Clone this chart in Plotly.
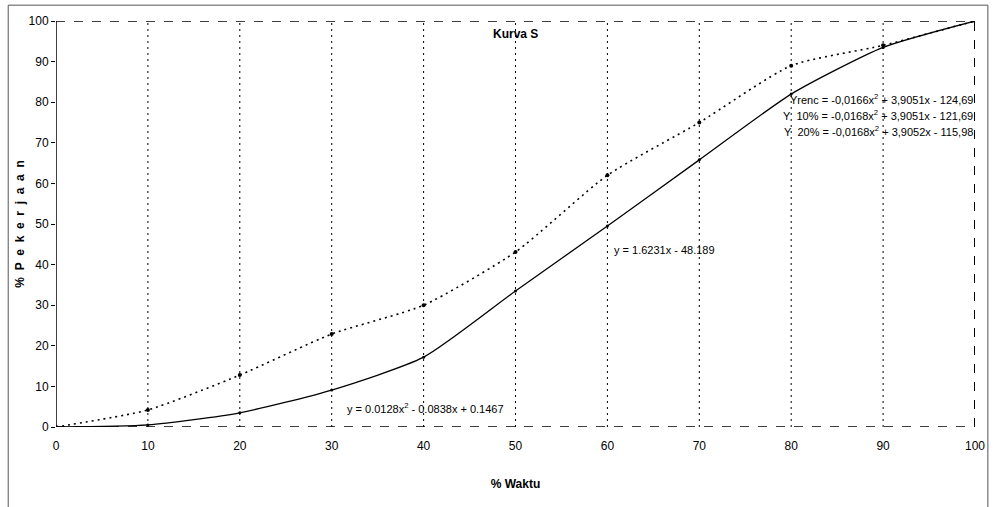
import plotly.graph_objects as go

waktu = [0, 10, 20, 30, 40, 50, 60, 70, 80, 90, 100]
rencana = [0, 0.5, 3.5, 9.1, 17.2, 33.5, 49.5, 65.8, 82.0, 93.5, 100]
realisasi = [0, 4.2, 12.8, 22.9, 30.0, 43.1, 62.0, 75.0, 89.0, 94.0, 100]
x_ticks = [0, 10, 20, 30, 40, 50, 60, 70, 80, 90, 100]
y_ticks = [0, 10, 20, 30, 40, 50, 60, 70, 80, 90, 100]

FONT = "Liberation Sans Narrow, Arial Narrow, Liberation Sans, sans-serif"
NB = "\u00a0"

fig = go.Figure()
fig.add_trace(go.Scatter(x=waktu, y=realisasi, mode="lines+markers",
                         line=dict(color="black", width=1.6, dash="2px,4px", shape="spline", smoothing=0.6),
                         marker=dict(color="black", size=4), showlegend=False))
fig.add_trace(go.Scatter(x=waktu, y=rencana, mode="lines+markers",
                         line=dict(color="black", width=1.3, shape="spline", smoothing=0.6),
                         marker=dict(color="black", size=3), showlegend=False))

shapes = []
for xv in x_ticks[1:-1]:
    shapes.append(dict(type="line", xref="x", yref="y", x0=xv, x1=xv, y0=0, y1=100,
                       line=dict(color="black", width=1, dash="2px,4px"), layer="below"))
# plot frame
shapes.append(dict(type="line", xref="x", yref="y", x0=0, x1=100, y0=100, y1=100,
                   line=dict(color="black", width=1.5, dash="dash")))
shapes.append(dict(type="line", xref="x", yref="y", x0=0, x1=100, y0=0, y1=0,
                   line=dict(color="black", width=1.5, dash="dash")))
shapes.append(dict(type="line", xref="x", yref="y", x0=100, x1=100, y0=0, y1=100,
                   line=dict(color="black", width=2, dash="dash")))
shapes.append(dict(type="line", xref="x", yref="y", x0=0, x1=0, y0=0, y1=100,
                   line=dict(color="black", width=1.5)))
# outer chart frame
shapes.append(dict(type="rect", xref="paper", yref="paper", x0=-0.052, x1=1.014, y0=-0.25, y1=1.039,
                   line=dict(color="#555555", width=1)))

EQ = 11
annotations = [
    dict(text="<b>Kurva S</b>", x=0.5, y=0.99, xref="paper", yref="paper", showarrow=False,
         xanchor="center", yanchor="top", font=dict(size=12, color="black", family=FONT)),
    dict(text="Yrenc = -0,0166x<sup>2</sup> + 3,9051x - 124,69", x=1.0, y=0.808, xref="paper", yref="paper",
         showarrow=False, xanchor="right", yanchor="middle", font=dict(size=EQ, color="black", family=FONT)),
    dict(text="Y" + NB * 2 + "10% = -0,0168x<sup>2</sup> + 3,9051x - 121,69", x=1.0, y=0.768, xref="paper", yref="paper",
         showarrow=False, xanchor="right", yanchor="middle", font=dict(size=EQ, color="black", family=FONT)),
    dict(text="Y" + NB * 2 + "20% = -0,0168x<sup>2</sup> + 3,9052x - 115,98", x=1.0, y=0.728, xref="paper", yref="paper",
         showarrow=False, xanchor="right", yanchor="middle", font=dict(size=EQ, color="black", family=FONT)),
    dict(text="y = 1.6231x - 48.189", x=60.5, y=43.7, xref="x", yref="y", showarrow=False,
         xanchor="left", yanchor="middle", font=dict(size=EQ, color="black", family=FONT)),
    dict(text="y = 0.0128x<sup>2</sup> - 0.0838x + 0.1467", x=31.5, y=4.8, xref="x", yref="y", showarrow=False,
         xanchor="left", yanchor="middle", font=dict(size=EQ, color="black", family=FONT)),
]

ytitle = "%" + NB * 2 + (NB * 2).join("Pekerjaan")

fig.update_layout(
    width=994, height=507,
    margin=dict(l=56, r=19, t=21, b=80),
    paper_bgcolor="white", plot_bgcolor="white",
    font=dict(family=FONT, color="black", size=12),
    shapes=shapes, annotations=annotations,
    xaxis=dict(range=[0, 100], tickvals=x_ticks, ticktext=[str(v) for v in x_ticks],
               showgrid=False, zeroline=False, showline=False, ticks="", ticklabelstandoff=10,
               automargin=False, tickfont=dict(size=12),
               title=dict(text="<b>% Waktu</b>", font=dict(size=12, family=FONT), standoff=27)),
    yaxis=dict(range=[0, 100], tickvals=y_ticks, ticktext=[str(v) for v in y_ticks],
               showgrid=False, zeroline=False, showline=False, ticks="outside", ticklen=4,
               tickcolor="black", automargin=False, tickfont=dict(size=12),
               title=dict(text="<b>" + ytitle + "</b>", font=dict(size=12, family=FONT), standoff=1)),
)

fig.write_html("out.html", config={"displayModeBar": False},
               post_script="document.body.style.margin='0';document.body.style.padding='0';")
